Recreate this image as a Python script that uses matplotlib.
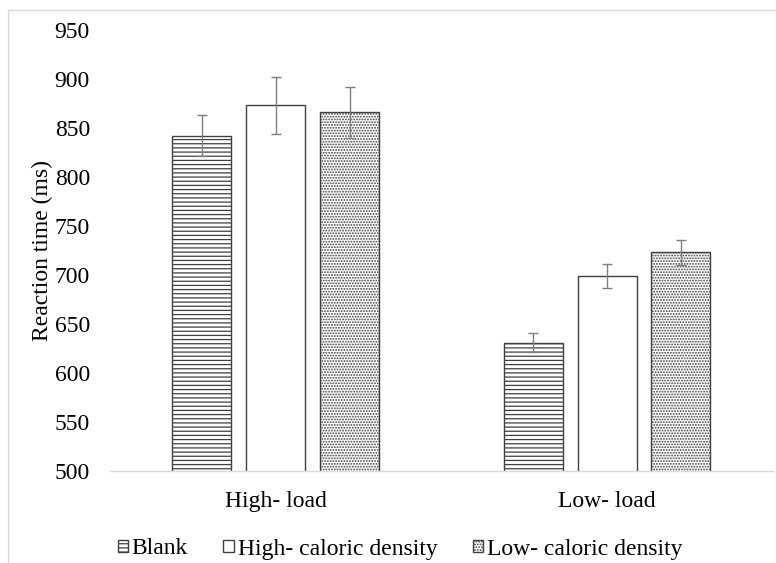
import matplotlib.pyplot as plt
import numpy as np

plt.rcParams['font.family'] = ['Liberation Serif', 'DejaVu Serif']
plt.rcParams['hatch.linewidth'] = 0.9

loads = ['High- load', 'Low- load']
conditions = ['Blank', 'High- caloric density', 'Low- caloric density']
rt_blank = [842, 631]
rt_high = [873, 699]
rt_low = [866, 723]
se_blank = [21, 10]
se_high = [29, 12]
se_low = [26, 13]

means = [rt_blank, rt_high, rt_low]
errs = [se_blank, se_high, se_low]
hatches = ['----', '', '......']
fs = 17

fig = plt.figure(figsize=(7.76, 5.63), dpi=100)
ax = fig.add_axes([0.1418, 0.1634, 0.854, 0.7833])

x = np.arange(len(loads))
width = 0.178
step = 0.223
for i, (m, e) in enumerate(zip(means, errs)):
    ax.bar(x + (i - 1) * step, m, width, bottom=0, color='white',
           edgecolor='#404040', hatch=hatches[i], linewidth=1.0,
           label=conditions[i], zorder=2)
    ax.errorbar(x + (i - 1) * step, m, yerr=e, fmt='none', ecolor='#7f7f7f',
                elinewidth=1.0, capsize=3.5, capthick=1.0, zorder=3)

ax.set_ylim(500, 950)
ax.set_xlim(-0.5, 1.5)
ax.set_yticks(np.arange(500, 951, 50))
ax.set_xticks(x)
ax.set_xticklabels(loads)
ax.tick_params(axis='both', length=0, labelsize=fs, colors='#000000')
ax.tick_params(axis='y', pad=14.5)
ax.tick_params(axis='x', pad=14.5)
ax.set_ylabel('Reaction time (ms)', fontsize=fs, labelpad=1.5)

for side in ['top', 'right', 'left']:
    ax.spines[side].set_visible(False)
ax.spines['bottom'].set_color('#d9d9d9')
ax.spines['bottom'].set_linewidth(1.0)

fig.legend(loc='center', bbox_to_anchor=(400 / 776, 1 - 549 / 563), ncol=3,
           frameon=False, fontsize=fs, handlelength=0.45, handleheight=0.45,
           handletextpad=0.15, columnspacing=1.5, borderpad=0)

border = plt.Rectangle((8 / 776, -0.1), 1.2, 1 - 10 / 563 + 0.1,
                       transform=fig.transFigure, fill=False,
                       edgecolor='#d9d9d9', linewidth=1.0)
fig.patches.append(border)

fig.savefig('out.png', dpi=100)
